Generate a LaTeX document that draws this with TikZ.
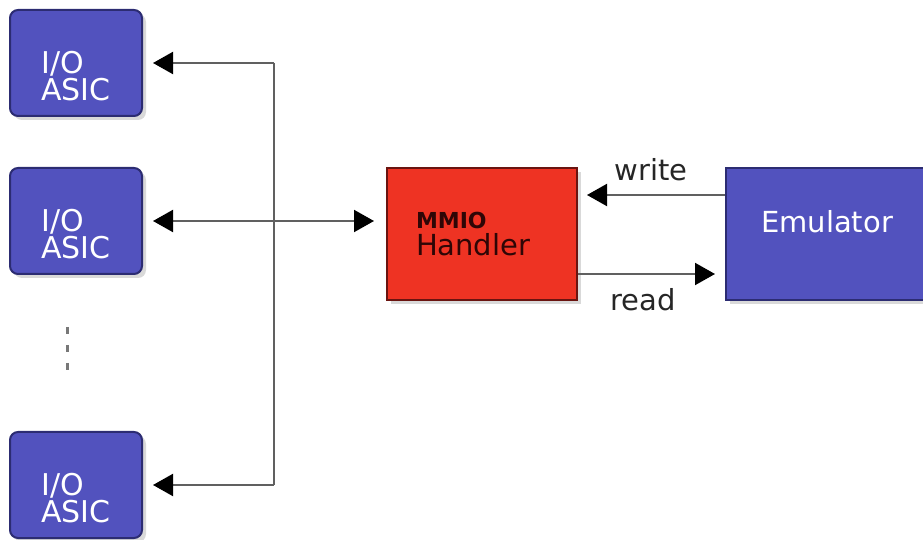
\documentclass[tikz,border=0pt]{standalone}
\usepackage{fontspec}
\setmainfont{DejaVu Sans}
\usetikzlibrary{arrows.meta,shadows}

\definecolor{asicblue}{HTML}{5252BE}
\definecolor{asicedge}{HTML}{2C2C72}
\definecolor{handlerred}{HTML}{EE3323}
\definecolor{handleredge}{HTML}{6A1410}
\definecolor{handlertext}{HTML}{2E0606}
\definecolor{wiregray}{HTML}{606060}

\tikzset{
  boxshadow/.style={drop shadow={shadow xshift=2pt, shadow yshift=-2pt, opacity=0.3}},
  asic/.style={draw=asicedge, line width=1pt, fill=asicblue, rounded corners=4pt,
    minimum width=66pt, minimum height=53pt, boxshadow},
  asiclabel/.style={text=white, align=left, inner sep=0pt,
    font=\fontsize{15}{13.5}\selectfont},
  handler/.style={draw=handleredge, line width=1pt, fill=handlerred,
    minimum width=95pt, minimum height=66pt, boxshadow, text=handlertext,
    text width=66pt, align=left, font=\fontsize{14.5}{13.5}\selectfont},
  emubox/.style={draw=asicedge, line width=1pt, fill=asicblue,
    minimum width=101pt, minimum height=66pt, boxshadow},
  wire/.style={draw=wiregray, line width=1pt},
  tip/.tip={Triangle[length=10pt, width=11pt, color=black]},
  wirelabel/.style={font=\fontsize{14.5}{16}\selectfont, text=black!85},
}

\begin{document}
\begin{tikzpicture}[x=0.5pt, y=-0.5pt]
  \useasboundingbox (0,0) rectangle (923,540);

  % the I/O ASICs on the left
  \foreach \n/\y in {A/63, B/221, C/485} {
    \node[asic] (asic\n) at (76,\y) {};
    \node[asiclabel] (asic\n text) at ([yshift=-6.5pt]asic\n.center) {I/O\\ASIC};
  }
  \draw[draw=wiregray!85, line width=1.5pt, dash pattern=on 3.5pt off 5.5pt]
    (67,327) -- (67,374);

  % handler and emulator
  \node[handler] (mmio) at (482,234)
    {{\bfseries\fontsize{11}{13}\selectfont MMIO}\\Handler};
  \node[emubox] (emu) at (827,234) {};
  \node[text=white, font=\fontsize{14.5}{16}\selectfont] (emutext)
    at ([yshift=6pt]emu.center) {Emulator};

  % bus joining the ASICs
  \coordinate (busTop) at (274,63);
  \coordinate (busBot) at (274,485);
  \draw[wire] (busTop) -- (busBot);
  \draw[wire, -tip, shorten >=5pt] (busTop) -- (asicA.east);
  \draw[wire, -tip, shorten >=5pt] (busBot) -- (asicC.east);
  \draw[wire, tip-tip, shorten <=5pt, shorten >=6pt] (asicB.east) -- (mmio.west |- asicB.east);

  % write / read between handler and emulator
  \draw[wire, -tip, shorten >=4.5pt] ([yshift=19.5pt]emu.west) -- ([yshift=19.5pt]mmio.east);
  \draw[wire, -tip, shorten >=5pt] ([yshift=-20pt]mmio.east) -- ([yshift=-20pt]emu.west);
  \node[wirelabel] (wrlabel) at (651,170) {write};
  \node[wirelabel] (rdlabel) at (643,300) {read};
\end{tikzpicture}
\end{document}
